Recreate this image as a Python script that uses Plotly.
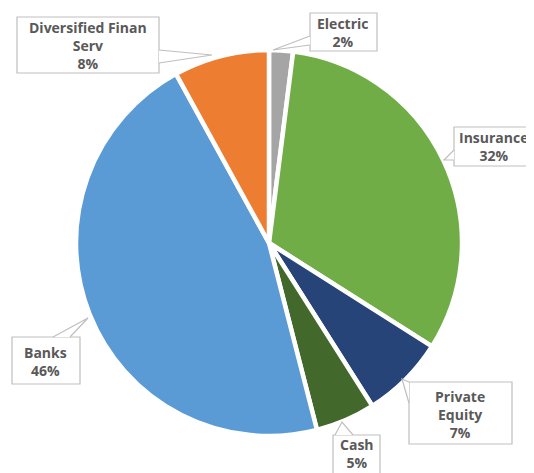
import plotly.graph_objects as go

OFF = 8  # page body margin
W, H = 534 - OFF, 473 - OFF

categories = ["Electric", "Insurance", "Private Equity", "Cash", "Banks", "Diversified Finan Serv"]
values = [2, 32, 7, 5, 46, 8]
colors = ["#A5A5A5", "#70AD47", "#264478", "#43682B", "#5B9BD5", "#ED7D31"]
label_text = ["Electric<br>2%", "Insurance<br>32%", "Private<br>Equity<br>7%", "Cash<br>5%",
              "Banks<br>46%", "Diversified Finan<br>Serv<br>8%"]

# callout geometry in window pixels: box (x0,y0,x1,y1), pointer polygon points, text centre
callouts = [
    dict(box=(310, 13, 377, 51), ptr=[(310, 36), (273, 50), (310, 45)], c=(343, 33)),
    dict(box=(454, 127, 532, 166), ptr=[(454, 150), (444, 160), (454, 160)], c=(493, 146)),
    dict(box=(409, 382, 512, 444), ptr=[(409, 382), (402, 379), (409, 403)], c=(460, 414)),
    dict(box=(333, 435, 380, 480), ptr=[(335, 435), (342, 422), (353, 435)], c=(357, 453)),
    dict(box=(12, 337, 80, 384), ptr=[(53, 337), (88, 318), (70, 337)], c=(45, 361)),
    dict(box=(17, 17, 159, 73), ptr=[(159, 50), (212, 55), (159, 63)], c=(88, 45)),
]

def px(x):
    return (x - OFF) / W

def py(y):
    return 1 - (y - OFF) / H

cx, cy, r = 269, 243, 193

fig = go.Figure(go.Pie(
    labels=categories, values=values, sort=False, direction="clockwise", rotation=0,
    marker=dict(colors=colors, line=dict(color="white", width=4.5)),
    textinfo="none", hoverinfo="label+percent", showlegend=False,
    domain=dict(x=[px(cx - r), px(cx + r)], y=[py(cy + r), py(cy - r)]),
))

shapes = []
annotations = []
for c, t in zip(callouts, label_text):
    x0, y0, x1, y1 = c["box"]
    shapes.append(dict(type="rect", xref="paper", yref="paper",
                       x0=px(x0), x1=px(x1), y0=py(y1), y1=py(y0),
                       fillcolor="white", line=dict(color="#BFBFBF", width=1.2), layer="above"))
    p = c["ptr"]
    path = "M {} {} L {} {} L {} {}".format(px(p[0][0]), py(p[0][1]), px(p[1][0]), py(p[1][1]),
                                          px(p[2][0]), py(p[2][1]))
    shapes.append(dict(type="path", xref="paper", yref="paper", path=path,
                       fillcolor="white", line=dict(color="#BFBFBF", width=1.2), layer="above"))
    annotations.append(dict(text=t, x=px(c["c"][0]), y=py(c["c"][1]), xref="paper", yref="paper",
                            xanchor="center", yanchor="middle", showarrow=False, align="center",
                            font=dict(family="Open Sans", size=14, color="#595959", weight="bold")))

fig.update_layout(width=W, height=H, margin=dict(l=0, r=0, t=0, b=0),
                  paper_bgcolor="white", plot_bgcolor="white",
                  shapes=shapes, annotations=annotations)

fig.write_html("out.html")
